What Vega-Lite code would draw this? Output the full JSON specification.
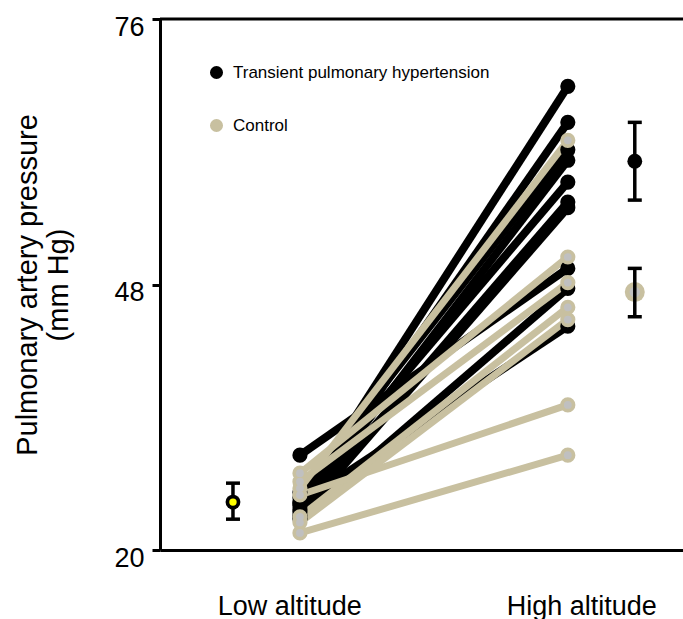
{
  "$schema": "https://vega.github.io/schema/vega-lite/v6.json",
  "width": 523,
  "height": 531,
  "autosize": {"type": "none"},
  "padding": {"left": 160, "top": 19, "right": 0, "bottom": 69},
  "background": "white",
  "config": {
    "view": {"stroke": null},
    "font": "Liberation Sans",
    "legend": {"labelFont": "Liberation Sans"}
  },
  "datasets": {
    "subjects": [
      {"subject": "B1", "group": "Transient pulmonary hypertension", "slot": 1, "p": 25.0},
      {"subject": "B1", "group": "Transient pulmonary hypertension", "slot": 2, "p": 68.9},
      {"subject": "B2", "group": "Transient pulmonary hypertension", "slot": 1, "p": 24.7},
      {"subject": "B2", "group": "Transient pulmonary hypertension", "slot": 2, "p": 65.1},
      {"subject": "B3", "group": "Transient pulmonary hypertension", "slot": 1, "p": 26.1},
      {"subject": "B3", "group": "Transient pulmonary hypertension", "slot": 2, "p": 62.2},
      {"subject": "B4", "group": "Transient pulmonary hypertension", "slot": 1, "p": 24.3},
      {"subject": "B4", "group": "Transient pulmonary hypertension", "slot": 2, "p": 61.1},
      {"subject": "B5", "group": "Transient pulmonary hypertension", "slot": 1, "p": 25.5},
      {"subject": "B5", "group": "Transient pulmonary hypertension", "slot": 2, "p": 58.8},
      {"subject": "B6", "group": "Transient pulmonary hypertension", "slot": 1, "p": 24.0},
      {"subject": "B6", "group": "Transient pulmonary hypertension", "slot": 2, "p": 56.7},
      {"subject": "B7", "group": "Transient pulmonary hypertension", "slot": 1, "p": 23.6},
      {"subject": "B7", "group": "Transient pulmonary hypertension", "slot": 2, "p": 56.1},
      {"subject": "B8", "group": "Transient pulmonary hypertension", "slot": 1, "p": 30.0},
      {"subject": "B8", "group": "Transient pulmonary hypertension", "slot": 2, "p": 49.7},
      {"subject": "B9", "group": "Transient pulmonary hypertension", "slot": 1, "p": 23.3},
      {"subject": "B9", "group": "Transient pulmonary hypertension", "slot": 2, "p": 47.6},
      {"subject": "B10", "group": "Transient pulmonary hypertension", "slot": 1, "p": 24.9},
      {"subject": "B10", "group": "Transient pulmonary hypertension", "slot": 2, "p": 43.6},
      {"subject": "C1", "group": "Control", "slot": 1, "p": 26.5},
      {"subject": "C1", "group": "Control", "slot": 2, "p": 63.2},
      {"subject": "C2", "group": "Control", "slot": 1, "p": 28.1},
      {"subject": "C2", "group": "Control", "slot": 2, "p": 50.9},
      {"subject": "C3", "group": "Control", "slot": 1, "p": 27.2},
      {"subject": "C3", "group": "Control", "slot": 2, "p": 48.2},
      {"subject": "C4", "group": "Control", "slot": 1, "p": 23.5},
      {"subject": "C4", "group": "Control", "slot": 2, "p": 45.6},
      {"subject": "C5", "group": "Control", "slot": 1, "p": 22.9},
      {"subject": "C5", "group": "Control", "slot": 2, "p": 44.3},
      {"subject": "C6", "group": "Control", "slot": 1, "p": 25.8},
      {"subject": "C6", "group": "Control", "slot": 2, "p": 35.3},
      {"subject": "C7", "group": "Control", "slot": 1, "p": 21.8},
      {"subject": "C7", "group": "Control", "slot": 2, "p": 30.0}
    ],
    "summary": [
      {"group": "All", "slot": 0.75, "mean": 25.05, "lo": 23.25, "hi": 27.05},
      {"group": "Transient pulmonary hypertension", "slot": 2.25, "mean": 61.0, "lo": 56.9, "hi": 65.1},
      {"group": "Control", "slot": 2.25, "mean": 47.2, "lo": 44.6, "hi": 49.7}
    ]
  },
  "layer": [
    {
      "data": {"name": "subjects"},
      "transform": [{"filter": "datum.group === 'Transient pulmonary hypertension'"}],
      "mark": {"type": "line", "strokeWidth": 8, "color": "#000000"},
      "encoding": {
        "x": {
          "field": "slot", "type": "quantitative",
          "scale": {"domain": [0.4776, 2.43], "nice": false, "zero": false},
          "axis": {
            "values": [0.96, 2.05],
            "labelExpr": "datum.value < 1.5 ? 'Low altitude' : 'High altitude'",
            "ticks": false, "grid": false,
            "domainWidth": 3, "domainColor": "black",
            "labelFontSize": 27, "labelColor": "black", "labelPadding": 43,
            "labelFlush": false, "title": null
          }
        },
        "y": {
          "field": "p", "type": "quantitative",
          "scale": {"domain": [20, 76], "nice": false, "zero": false},
          "axis": {
            "values": [20, 48, 76], "grid": false,
            "tickSize": 8, "tickWidth": 3, "tickColor": "black",
            "domainWidth": 3, "domainColor": "black",
            "labelFontSize": 27, "labelColor": "black", "labelPadding": 8, "labelOffset": 8,
            "title": ["Pulmonary artery pressure", "(mm Hg)"],
            "titleFontSize": 29, "titleFontWeight": "normal", "titleColor": "black",
            "titleLineHeight": 31, "titlePadding": 40
          }
        },
        "detail": {"field": "subject"}
      }
    },
    {
      "data": {"name": "subjects"},
      "transform": [{"filter": "datum.group === 'Control'"}],
      "mark": {"type": "line", "strokeWidth": 7, "color": "#c8c0a0"},
      "encoding": {
        "x": {"field": "slot", "type": "quantitative"},
        "y": {"field": "p", "type": "quantitative"},
        "detail": {"field": "subject"}
      }
    },
    {
      "data": {"values": [{}]},
      "mark": {"type": "rule", "strokeWidth": 3, "color": "black"},
      "encoding": {"y": {"datum": 76}}
    },
    {
      "data": {"name": "subjects"},
      "mark": {"type": "point", "filled": true, "size": 230, "opacity": 1},
      "encoding": {
        "x": {"field": "slot", "type": "quantitative"},
        "y": {"field": "p", "type": "quantitative"},
        "color": {
          "field": "group", "type": "nominal",
          "scale": {"domain": ["Transient pulmonary hypertension", "Control"], "range": ["#000000", "#c8c0a0"]},
          "legend": {
            "title": null, "orient": "none", "legendX": 48, "legendY": 45,
            "symbolType": "circle", "symbolSize": 170, "symbolStrokeWidth": 0,
            "labelFontSize": 17, "labelColor": "black", "labelOffset": 8, "labelLimit": 500,
            "rowPadding": 35
          }
        }
      }
    },
    {
      "data": {"name": "subjects"},
      "transform": [{"filter": "datum.group === 'Control'"}],
      "mark": {"type": "point", "filled": true, "size": 60, "color": "#c0c0c0", "opacity": 1},
      "encoding": {
        "x": {"field": "slot", "type": "quantitative"},
        "y": {"field": "p", "type": "quantitative"}
      }
    },
    {
      "data": {"name": "summary"},
      "transform": [{"filter": "datum.group === 'Control'"}],
      "mark": {"type": "point", "filled": true, "size": 400, "color": "#c8c0a0", "opacity": 1},
      "encoding": {
        "x": {"field": "slot", "type": "quantitative"},
        "y": {"field": "mean", "type": "quantitative"}
      }
    },
    {
      "data": {"name": "summary"},
      "transform": [{"filter": "datum.group === 'Control'"}],
      "mark": {"type": "point", "filled": true, "size": 110, "color": "#c0c0c0", "opacity": 1},
      "encoding": {
        "x": {"field": "slot", "type": "quantitative"},
        "y": {"field": "mean", "type": "quantitative"}
      }
    },
    {
      "data": {"name": "summary"},
      "mark": {"type": "rule", "strokeWidth": 3.5, "color": "black"},
      "encoding": {
        "x": {"field": "slot", "type": "quantitative"},
        "y": {"field": "lo", "type": "quantitative"},
        "y2": {"field": "hi"}
      }
    },
    {
      "data": {"name": "summary"},
      "transform": [{"fold": ["lo", "hi"], "as": ["end", "v"]}],
      "mark": {"type": "tick", "orient": "horizontal", "size": 14, "thickness": 3.5, "color": "black", "opacity": 1},
      "encoding": {
        "x": {"field": "slot", "type": "quantitative"},
        "y": {"field": "v", "type": "quantitative"}
      }
    },
    {
      "data": {"name": "summary"},
      "transform": [{"filter": "datum.group !== 'Control'"}],
      "mark": {"type": "point", "filled": true, "size": 220, "color": "black", "opacity": 1},
      "encoding": {
        "x": {"field": "slot", "type": "quantitative"},
        "y": {"field": "mean", "type": "quantitative"}
      }
    },
    {
      "data": {"name": "summary"},
      "transform": [{"filter": "datum.group === 'All'"}],
      "mark": {"type": "point", "filled": true, "size": 55, "color": "#ffff00", "opacity": 1},
      "encoding": {
        "x": {"field": "slot", "type": "quantitative"},
        "y": {"field": "mean", "type": "quantitative"}
      }
    }
  ]
}
